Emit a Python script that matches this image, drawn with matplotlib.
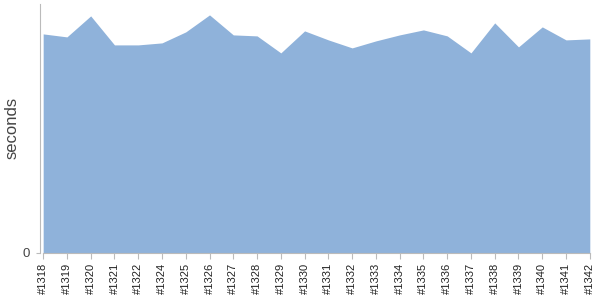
import matplotlib.pyplot as plt

plt.rcParams["font.family"] = ["Liberation Sans", "DejaVu Sans"]

# build labels and durations
builds = [
    "#1318", "#1319", "#1320", "#1321", "#1322", "#1324", "#1325", "#1326",
    "#1327", "#1328", "#1329", "#1330", "#1331", "#1332", "#1333", "#1334",
    "#1335", "#1336", "#1337", "#1338", "#1339", "#1340", "#1341", "#1342",
]
seconds = [
    219, 216, 237, 208, 208, 210, 221, 238,
    218, 217, 200, 222, 213, 205, 212, 218,
    223, 217, 200, 230, 206, 226, 213, 214,
]

fig = plt.figure(figsize=(6, 3), dpi=100)
ax = fig.add_axes([0.066, 0.157, 0.917, 0.83])

x = list(range(len(builds)))
ax.fill_between(x, seconds, 0, color="#8FB2DA", linewidth=0)

ax.set_xlim(-0.15, len(builds) - 1)
ax.set_ylim(0, 249)

ax.set_xticks(x)
ax.set_xticklabels(builds, rotation=90, fontsize=8, color="#222222")
ax.set_yticks([0])
ax.set_yticklabels(["0"], fontsize=9.5, color="#444444")
ax.set_ylabel("seconds", fontsize=12, color="#444444")
ax.yaxis.set_label_coords(-0.036, 0.5)

for side in ("top", "right"):
    ax.spines[side].set_visible(False)
ax.spines["left"].set_color("#BBBBBB")
ax.spines["bottom"].set_color("#BBBBBB")
ax.spines["bottom"].set_bounds(0, len(builds) - 1)
ax.tick_params(axis="x", length=4, color="#BBBBBB", pad=3)
ax.tick_params(axis="y", length=3, color="#BBBBBB", pad=4)

fig.savefig("out.png", dpi=100)
